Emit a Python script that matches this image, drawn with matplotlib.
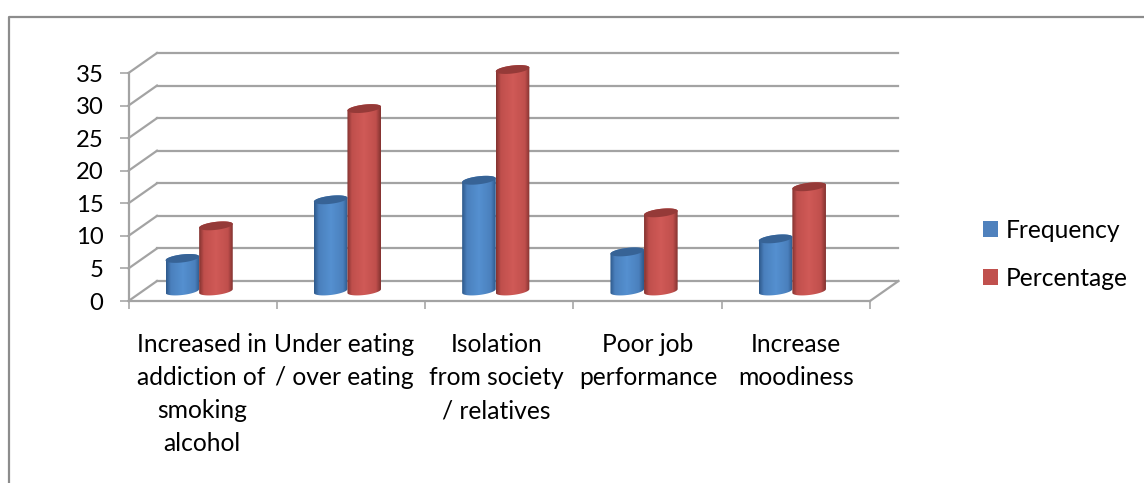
import numpy as np
import matplotlib
matplotlib.use("Agg")
import matplotlib.pyplot as plt
from matplotlib.lines import Line2D
from matplotlib.patches import Patch, PathPatch, Polygon
from matplotlib.path import Path
from matplotlib.colors import LinearSegmentedColormap

categories = [
    "Increased in\naddiction of\nsmoking\nalcohol",
    "Under eating\n/ over eating",
    "Isolation\nfrom society\n/ relatives",
    "Poor job\nperformance",
    "Increase\nmoodiness",
]
frequency = [5, 14, 17, 6, 8]
percentage = [10, 28, 34, 12, 16]
y_ticks = [0, 5, 10, 15, 20, 25, 30, 35]
label_nudge_px = [-1, -6.5, -3, 0.5, 0.5]

W, H = 1144, 483
GRID = "#a3a3a3"
plt.rcParams["font.family"] = ["Lato", "DejaVu Sans"]
FS = 17.7

fig = plt.figure(figsize=(W / 100, H / 100), dpi=100, facecolor="white")

# Front plane of the 3D box, in pixels from the figure's left / bottom edge
left, right, top, bottom = 128.5, 870.0, 73.0, 301.0
ax = fig.add_axes([left / W, (H - bottom) / H, (right - left) / W, (bottom - top) / H])
n = len(categories)
ymax = y_ticks[-1]
ax.set_xlim(0, n)
ax.set_ylim(0, ymax)
ax.patch.set_visible(False)
for s in ax.spines.values():
    s.set_visible(False)

px = n / (right - left)      # data units per pixel, horizontally
py = ymax / (bottom - top)   # data units per pixel, vertically
dx, dy = 28.5 * px, 20.0 * py  # depth of the box

lw = 1.6
kw = dict(color=GRID, lw=lw, clip_on=False, solid_capstyle="projecting", zorder=1)

# Back wall gridlines and the receding lines on the side wall
for v in y_ticks:
    ax.plot([dx, n + dx], [v + dy, v + dy], **kw)
    ax.plot([0, dx], [v, v + dy], **kw)
ax.plot([0, 0], [0, ymax], **kw)
ax.plot([0, n], [0, 0], **kw)
ax.plot([n, n + dx], [0, dy], **kw)

ax.set_yticks(y_ticks)
ax.set_xticks(range(n + 1))
ax.set_xticklabels([])
ax.tick_params(axis="y", length=6.5, width=lw * 0.72, color=GRID, pad=11.5, labelsize=17.2, labelcolor="black")
ax.tick_params(axis="x", length=6, width=lw * 0.72, color=GRID)

for i, (label, nudge) in enumerate(zip(categories, label_nudge_px)):
    ax.text(i + 0.5 + nudge * px, -31.5 * py, label, ha="center", va="top",
            fontsize=FS, linespacing=1.54, color="black", clip_on=False)


def shade(edge, mid, light):
    return LinearSegmentedColormap.from_list(
        "c", [(0, edge), (0.14, mid), (0.5, light), (0.86, mid), (1, edge)])


def cylinder(cx, value, cmap, cap):
    """Upright cylinder standing on the mid-depth floor line, top at `value`."""
    a, b, tilt = 16.8 * px, 4.0 * py, 1.9 * py
    base = 10.0 * py
    t = np.linspace(0, np.pi, 50)
    ex = a * np.cos(t)
    ey = b * np.sin(t) + tilt * np.cos(t)
    top_y = base + value
    # Outline: lower half of the base ellipse, then upper half of the top one
    xs = np.r_[cx + ex[::-1], cx + ex]
    ys = np.r_[base - b * np.sin(t[::-1]) + tilt * np.cos(t[::-1]), top_y + ey]
    body = PathPatch(Path(np.c_[xs, ys]), fc="none", ec="none", zorder=3)
    ax.add_patch(body)
    img = ax.imshow(np.linspace(0, 1, 64)[None, :], cmap=cmap, aspect="auto",
                    extent=[cx - a, cx + a, base - 2 * b, top_y + 2 * b],
                    interpolation="bilinear", zorder=3)
    img.set_clip_box(fig.bbox)
    img.set_clip_path(body)
    capx = np.r_[cx + ex, cx + ex[::-1]]
    capy = np.r_[top_y + ey, top_y - b * np.sin(t[::-1]) + tilt * np.cos(t[::-1])]
    ax.add_patch(Polygon(np.c_[capx, capy], closed=True, fc=cap, ec="none",
                         zorder=3.1, clip_on=False))


blue_map = shade("#2f5a8c", "#4a80bd", "#5590d0")
red_map = shade("#843331", "#c04f4c", "#d05a57")
half = 16.8 * px
shift = -3.5 * px
for i in range(n):
    centre = i + 0.5 + shift
    cylinder(centre - half, frequency[i], blue_map, "#376396")
    cylinder(centre + half, percentage[i], red_map, "#953a38")
ax.set_xlim(0, n)
ax.set_ylim(0, ymax)

handles = [Patch(fc="#4f81bd", ec="none"), Patch(fc="#c0504d", ec="none")]
fig.legend(handles, ["Frequency", "Percentage"], loc="upper left",
           bbox_to_anchor=(983 / W, 1 - 219 / H), bbox_transform=fig.transFigure,
           frameon=False, fontsize=FS, handlelength=0.61, handleheight=0.61,
           handletextpad=0.32, labelspacing=1.0, borderpad=0, borderaxespad=0)

# Outer chart border: only its top and left edges fall inside the picture
fig.add_artist(Line2D([8.5 / W, 8.5 / W, 1], [0, 1 - 16.5 / H, 1 - 16.5 / H],
                      transform=fig.transFigure, color="#8c8c8c", lw=1.6))

fig.savefig("out.png", dpi=100)
